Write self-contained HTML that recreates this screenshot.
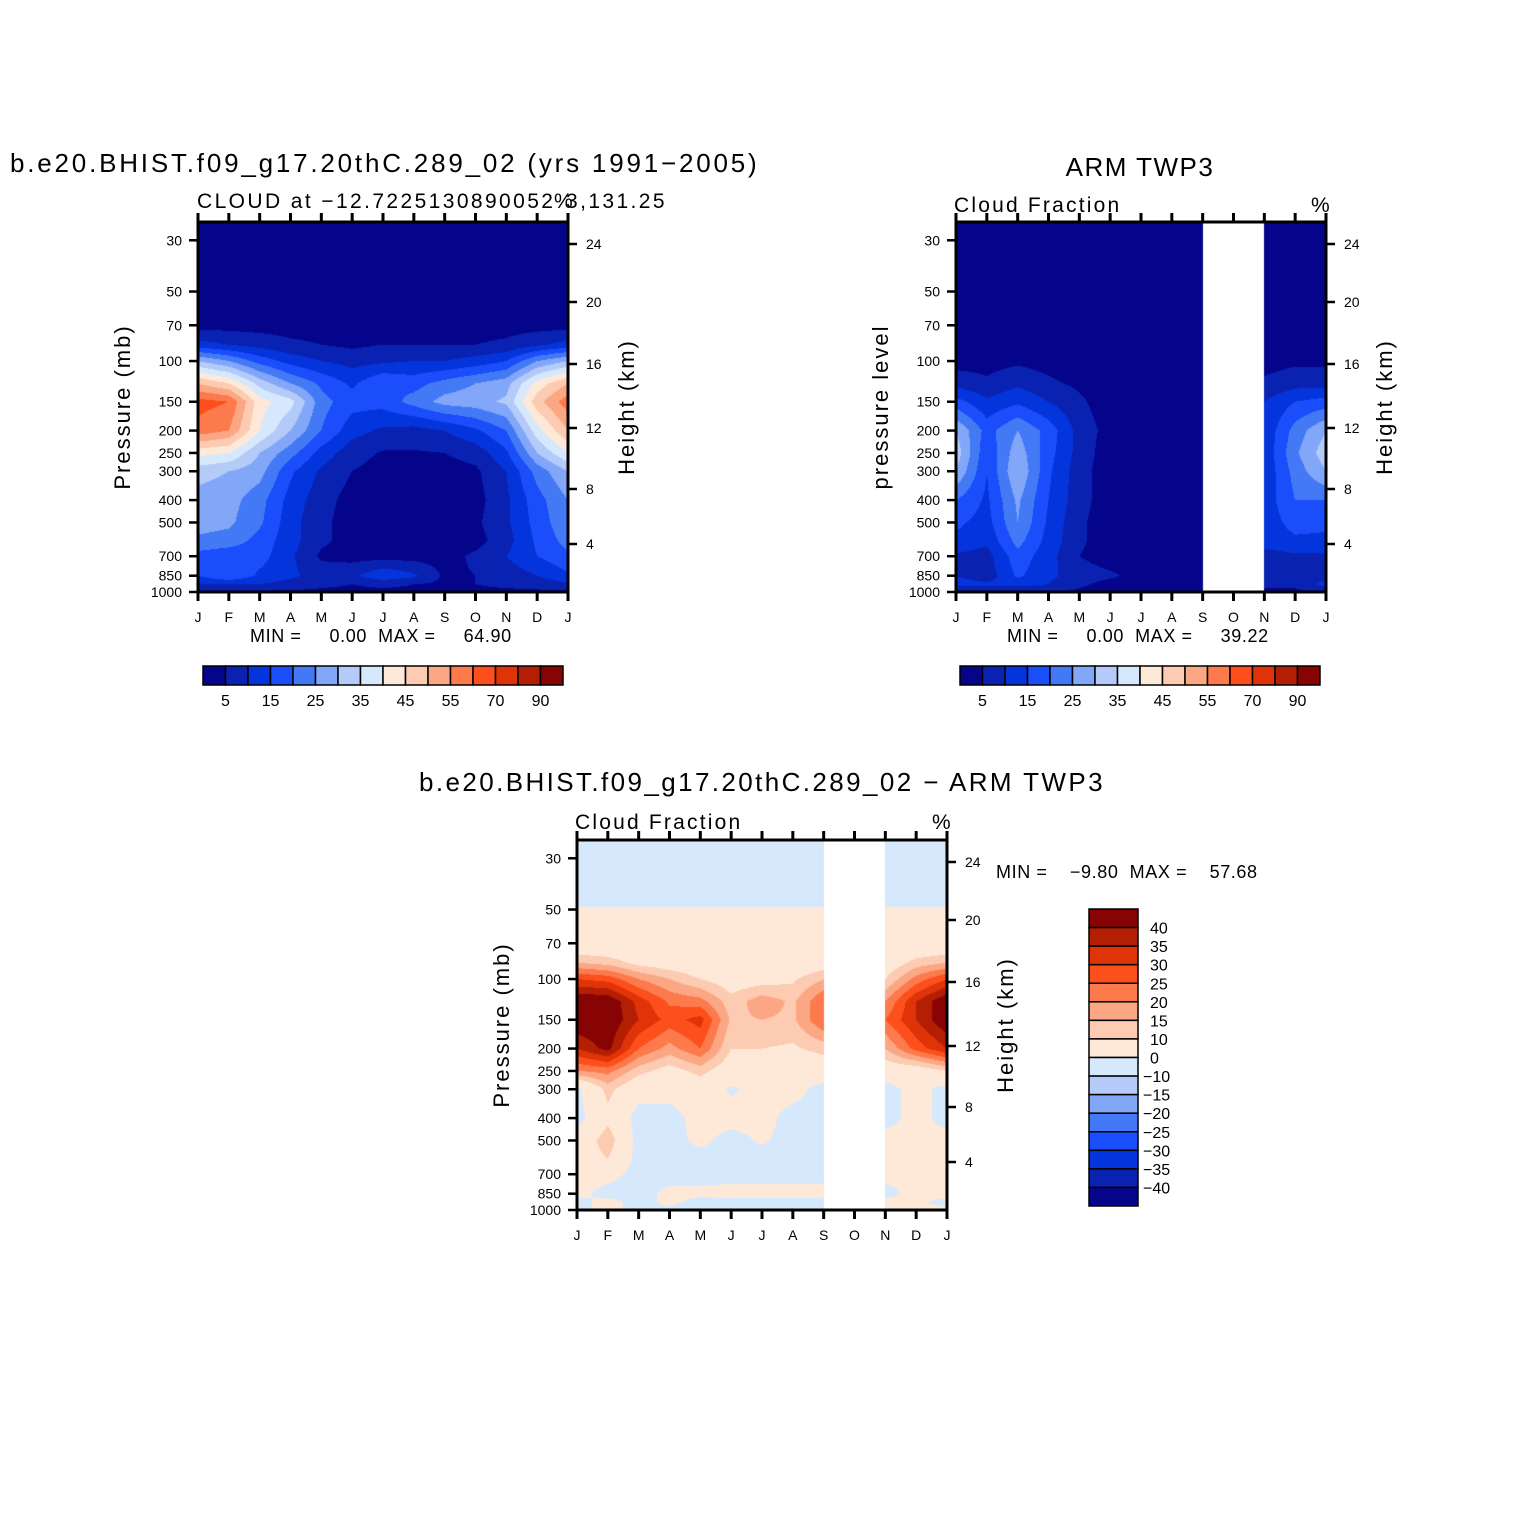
<!DOCTYPE html>
<html><head><meta charset="utf-8">
<style>
html,body{margin:0;padding:0;background:#fff;}
#wrap{position:relative;width:1524px;height:1524px;overflow:hidden;font-family:"Liberation Sans",sans-serif;}
canvas{position:absolute;}
svg{position:absolute;left:0;top:0;}
text{font-family:"Liberation Sans",sans-serif;fill:#000;white-space:pre;}
</style></head>
<body>
<div id="wrap">
<canvas id="c1" width="370" height="370" style="left:198px;top:222px"></canvas>
<canvas id="c2" width="370" height="370" style="left:956px;top:222px"></canvas>
<canvas id="c3" width="370" height="370" style="left:577px;top:840px"></canvas>
<svg id="s" width="1524" height="1524"></svg>
</div>
<script>
// ---- data ----
const months = ["J","F","M","A","M","J","J","A","S","O","N","D","J"];
const pLevels = [1000,925,850,700,600,500,400,300,250,200,150,125,100,85,70,50,30,25];
const pTicks = [30,50,70,100,150,200,250,300,400,500,700,850,1000];
const hTicks = [24,20,16,12,8,4];
const hTickPos = [22,80,142,206,267,322]; // px offsets of height ticks below plot top
const absLevels = [5,10,15,20,25,30,35,40,45,50,55,60,70,80,90];
const absLabels = ["5","15","25","35","45","55","70","90"];
const diffLevels = [-40,-35,-30,-25,-20,-15,-10,0,10,15,20,25,30,35,40];
const diffLabels = ["40","35","30","25","20","15","10","0","−10","−15","−20","−25","−30","−35","−40"];
const palette = ["#05058c","#0a22b2","#0434dc","#1a4efa","#4479f5","#82a7f9","#b4cbf9","#d6e8fc","#fee9d8","#fdcab2","#fca784","#fc7a4c","#fc4f1c","#e03308","#b41f04","#880404"];
// model cloud (rows follow pLevels, cols follow months)
const model = [
[4,4,4,4,4,4,4,4,4,4,4,4,4],
[10,10,10,8,6,5,6,5,4,5,6,7,9],
[15,20,14,11,8,9,14,11,4,5,7,10,14],
[18,16,17,11,4,3,3,3,3,6,10,15,19],
[24,23,18,12,6,3,2,2,2,3,8,16,22],
[27,26,21,12,6,3,2,2,2,4,9,17,24],
[28,27,22,13,7,3,2,2,2,3,9,18,25],
[32,30,27,16,9,5,3,3,3,4,10,22,30],
[42,40,30,22,13,7,4.5,4.5,5,7,14,30,40],
[58,55,40,30,20,12,9,8,10,14,20,38,50],
[62,60,42,37,22,17,17,22,27,28,31,48,58],
[50,45,33,25,19,14,20,18,22,25,28,42,50],
[30,25,18,13,10,8,9,10,10,12,15,25,30],
[12,10,8,6,5,4,5,5,5,5,6,9,12],
[3,3,3,3,3,3,3,3,3,3,3,3,3],
[2,2,2,2,2,2,2,2,2,2,2,2,2],
[2,2,2,2,2,2,2,2,2,2,2,2,2],
[2,2,2,2,2,2,2,2,2,2,2,2,2]];
// ARM TWP3 observed cloud (null = missing)
const obs = [
[5,5,5,5,4,3,2,2,2,null,4,4,5],
[12,11,12,10,6,3,2,2,2,null,6,6,12],
[10,7,16,11,8,6,3,2,2,null,7,7,8],
[9,8,18,12,5,2,2,2,2,null,8,9,9],
[14,11,22,13,6,2,2,2,2,null,12,14,14],
[16,13,25,14,6,2,2,2,2,null,12,17,16],
[20,14,26,15,7,2,2,2,2,null,12,20,20],
[30,15,30,16,7,2,2,2,2,null,11,22,30],
[33,16,28,17,8,2,2,2,2,null,11,24,33],
[30,18,25,18,8,3,2,2,2,null,11,22,30],
[17,11,14,10,6,2,2,2,2,null,10,15,17],
[8,6,9,6,4,2,2,2,2,null,6,8,8],
[3,3,4,3,2,2,2,2,2,null,3,4,4],
[2,2,2,2,2,2,2,2,2,null,2,2,2],
[2,2,2,2,2,2,2,2,2,null,2,2,2],
[2,2,2,2,2,2,2,2,2,null,2,2,2],
[2,2,2,2,2,2,2,2,2,null,2,2,2],
[2,2,2,2,2,2,2,2,2,null,2,2,2]];
// model - obs difference
const diff = [
[-2,2,-2,-2,-2,-2,-2,-2,-2,null,2,2,2],
[-3,3,-3,2,-3,-3,-3,-3,-3,null,3,2,-3],
[3,-3,-3,2,2,3,3,3,3,null,-3,3,3],
[3,3,-3,-3,-3,-3,-3,-3,-3,null,3,3,3],
[5,10,-3,-3,-3,-3,-3,-3,-3,null,3,3,3],
[3,14,-3,-3,2,-3,1,-3,-3,null,3,3,3],
[-3,8,-3,-3,3,3,3,-3,-3,null,-3,3,-3],
[-2,12,3,3,5,-1,3,3,-3,null,-3,3,-3],
[20,22,12,7,12,5,4,4,5,null,5,5,10],
[35,42,25,18,25,10,10,9,12,null,15,27,35],
[45,45,35,28,32,14,15,14,25,null,25,35,45],
[45,45,33,24,22,12,18,14,25,null,20,35,45],
[30,28,20,15,10,6,7,9,15,null,10,22,30],
[15,13,8,6,4,3,3,4,6,null,5,12,15],
[3,3,3,3,3,3,3,3,3,null,3,3,3],
[0.3,0.3,0.3,0.3,0.3,0.3,0.3,0.3,0.3,null,0.3,0.3,0.3],
[-6,-6,-6,-6,-6,-6,-6,-6,-6,null,-6,-6,-6],
[-6,-6,-6,-6,-6,-6,-6,-6,-6,null,-6,-6,-6]];
const maskStart = 8, maskEnd = 10; // S..N missing in obs

// ---- scales ----
const W = 370, H = 370, PTOP = 25;
const LTOP = Math.log10(PTOP), LBOT = Math.log10(1000);
function yOfP(p){ return H*(Math.log10(p)-LTOP)/(LBOT-LTOP); }
function pOfY(y){ return Math.pow(10, LTOP + (y/H)*(LBOT-LTOP)); }
function xOfM(m){ return W*m/(months.length-1); }
function colorIndex(v, lev){ let i=0; while(i<lev.length && v>=lev[i]) i++; return i; }
function hexToRgb(h){ return [parseInt(h.slice(1,3),16),parseInt(h.slice(3,5),16),parseInt(h.slice(5,7),16)]; }
const rgb = palette.map(hexToRgb);
const lP = pLevels.map(p=>Math.log10(p));

function drawField(id, grid, lev, masked){
  const cv = document.getElementById(id), ctx = cv.getContext('2d');
  const img = ctx.createImageData(W,H);
  for(let py=0;py<H;py++){
    const lp = Math.log10(pOfY(py+0.5));
    let r=0; while(r<pLevels.length-2 && lP[r+1] > lp) r++;
    let ty = (lP[r]-lp)/(lP[r]-lP[r+1]); ty=Math.max(0,Math.min(1,ty));
    for(let px=0;px<W;px++){
      const m = (px+0.5)/W*(months.length-1);
      let c = Math.min(Math.floor(m), months.length-2);
      const tx = m-c;
      let idx = (py*W+px)*4;
      if(masked && m>=maskStart && m<=maskEnd){ img.data[idx]=255;img.data[idx+1]=255;img.data[idx+2]=255;img.data[idx+3]=255; continue; }
      const g = (rr,cc)=>{ let v=grid[rr][cc]; if(v===null){ v = grid[rr][cc-1]; } return v; };
      const v = (1-ty)*((1-tx)*g(r,c)+tx*g(r,c+1)) + ty*((1-tx)*g(r+1,c)+tx*g(r+1,c+1));
      const col = rgb[colorIndex(v,lev)];
      img.data[idx]=col[0];img.data[idx+1]=col[1];img.data[idx+2]=col[2];img.data[idx+3]=255;
    }
  }
  ctx.putImageData(img,0,0);
}
drawField('c1', model, absLevels, false);
drawField('c2', obs, absLevels, true);
drawField('c3', diff, diffLevels, true);

// ---- axes ----
const svg = document.getElementById('s');
const NS = "http://www.w3.org/2000/svg";
function el(tag, attrs, parent){ const e=document.createElementNS(NS,tag); for(const k in attrs) e.setAttribute(k,attrs[k]); (parent||svg).appendChild(e); return e; }
function txt(x,y,s,size,anchor,name,extra){
  const t = el('text',Object.assign({x:x,y:y,'font-size':size,'text-anchor':anchor||'start'},extra||{}));
  t.textContent = s;
  
  
  return t;
}
function axes(x0,y0,leftTitle,rightTitle){
  const g = el('g',{});
  
  
  el('rect',{x:x0,y:y0,width:W,height:H,fill:'none',stroke:'#000','stroke-width':3},g);
  months.forEach((m,i)=>{
    const x = x0+xOfM(i);
    el('line',{x1:x,y1:y0+H,x2:x,y2:y0+H+9,stroke:'#000','stroke-width':3},g);
    el('line',{x1:x,y1:y0,x2:x,y2:y0-9,stroke:'#000','stroke-width':3},g);
    txt(x,y0+H+30,m,14,'middle','month-label');
  });
  pTicks.forEach(p=>{
    const y = y0+yOfP(p);
    el('line',{x1:x0,y1:y,x2:x0-9,y2:y,stroke:'#000','stroke-width':2.5},g);
    txt(x0-16,y+5,String(p),14,'end','pressure-tick-label');
  });
  hTicks.forEach((h,i)=>{
    const y = y0+hTickPos[i];
    el('line',{x1:x0+W,y1:y,x2:x0+W+9,y2:y,stroke:'#000','stroke-width':2.5},g);
    txt(x0+W+18,y+5,String(h),14,'start','height-tick-label');
  });
  txt(0,0,leftTitle,22,'middle','y-axis-title',{transform:`translate(${x0-68},${y0+185}) rotate(-90)`,'letter-spacing':'2'});
  txt(0,0,rightTitle,22,'middle','y2-axis-title',{transform:`translate(${x0+W+66},${y0+185}) rotate(-90)`,'letter-spacing':'2'});
}
axes(198,222,'Pressure (mb)','Height (km)');
axes(956,222,'pressure level','Height (km)');
axes(577,840,'Pressure (mb)','Height (km)');

txt(10,172,'b.e20.BHIST.f09_g17.20thC.289_02 (yrs 1991−2005)',26,'start','main-title',{'letter-spacing':'2.8'});
txt(197,208,'CLOUD at −12.7225130890052',21,'start','left-subtitle',{'letter-spacing':'2.4'});
txt(566,208,'3,131.25',21,'start','left-subtitle-tail',{'letter-spacing':'2.4'});
txt(554,208,'%',21,'start','units-label');
txt(1140,176,'ARM TWP3',26,'middle','obs-title',{'letter-spacing':'1.5'});
txt(954,212,'Cloud Fraction',21,'start','obs-subtitle',{'letter-spacing':'2.2'});
txt(1311,212,'%',21,'start','units-label');
txt(762,791,'b.e20.BHIST.f09_g17.20thC.289_02 − ARM TWP3',26,'middle','diff-title',{'letter-spacing':'2.4'});
txt(575,829,'Cloud Fraction',21,'start','diff-subtitle',{'letter-spacing':'2.2'});
txt(932,829,'%',21,'start','units-label');
txt(250,642,'MIN =     0.00  MAX =     64.90',18,'start','min-max-model',{'letter-spacing':'0.6'});
txt(1007,642,'MIN =     0.00  MAX =     39.22',18,'start','min-max-obs',{'letter-spacing':'0.6'});
txt(996,878,'MIN =    −9.80  MAX =    57.68',18,'start','min-max-diff',{'letter-spacing':'0.6'});

// horizontal colorbars
function hbar(x0,y0,name){
  const g = el('g',{});
  
  
  const bw = 360/palette.length;
  palette.forEach((c,i)=>{
    const r = el('rect',{x:x0+i*bw,y:y0,width:bw,height:19,fill:c,stroke:'#000','stroke-width':1.5},g);
    
    
  });
  absLabels.forEach((l,i)=>{
    txt(x0+(2*i+1)*bw,y0+40,l,16,'middle','colorbar-label');
  });
}
hbar(203,666,'model-colorbar');
hbar(960,666,'obs-colorbar');
// vertical colorbar
(function(){
  const x0=1089,y0=909,bh=297/palette.length;
  const g = el('g',{});
  
  
  palette.slice().reverse().forEach((c,i)=>{
    const r = el('rect',{x:x0,y:y0+i*bh,width:49,height:bh,fill:c,stroke:'#000','stroke-width':1.5},g);
    
    
  });
  diffLabels.forEach((l,i)=>{
    txt(l[0]==='−'?1143:1150,y0+(i+1)*bh+6,l,16,'start','colorbar-label');
  });
})();
</script>
</body></html>
